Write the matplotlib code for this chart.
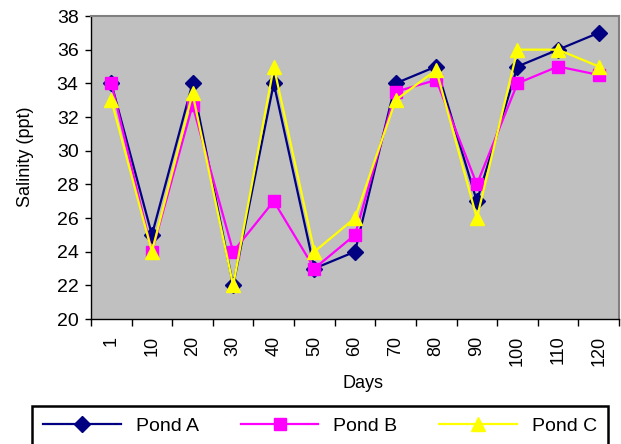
import numpy as np
import matplotlib
matplotlib.use("Agg")
import matplotlib.pyplot as plt

plt.rcParams["font.family"] = ["Liberation Sans", "DejaVu Sans"]

days = ["1", "10", "20", "30", "40", "50", "60", "70", "80", "90", "100", "110", "120"]
pond_a = [34, 25, 34, 22, 34, 23, 24, 34, 35, 27, 35, 36, 37]
pond_b = [34, 24, 32.7, 24, 27, 23, 25, 33.5, 34.2, 28, 34, 35, 34.5]
pond_c = [33, 24, 33.4, 22, 35, 24, 26, 33, 34.8, 26, 36, 36, 35]

W, H = 621, 444
fig = plt.figure(figsize=(W / 100, H / 100), dpi=100)
ax = fig.add_axes([91 / W, 1 - 319 / H, (619 - 91) / W, (319 - 16) / H])
ax.set_facecolor("#C0C0C0")

x = np.arange(1, len(days) + 1)
ax.plot(x, pond_a, color="#000080", lw=1.6, marker="D", ms=8, label="Pond A")
ax.plot(x, pond_b, color="#FF00FF", lw=1.6, marker="s", ms=8.5, label="Pond B")
ax.plot(x, pond_c, color="#FFFF00", lw=1.6, marker="^", ms=10, label="Pond C")

ax.set_xlim(0.5, len(days) + 0.5)
ax.set_ylim(20, 38)
ax.set_yticks(np.arange(20, 39, 2))
ax.tick_params(axis="y", direction="out", length=4, width=1, pad=5, labelsize=14)

# boundaries get the tick marks, centres get the labels
ax.set_xticks(np.arange(0.5, len(days) + 1, 1))
ax.set_xticklabels([])
ax.set_xticks(x, labels=days, minor=True)
ax.tick_params(axis="x", which="major", direction="out", length=5, width=1)
ax.tick_params(axis="x", which="minor", length=0, pad=12, labelsize=13, labelrotation=90)

for s in ["top", "right"]:
    ax.spines[s].set_color("#808080")
    ax.spines[s].set_linewidth(1.5)
for s in ["left", "bottom"]:
    ax.spines[s].set_color("black")
    ax.spines[s].set_linewidth(1)

fig.text(25 / W, 1 - 157 / H, "Salinity (ppt)", rotation=90, ha="center", va="center", fontsize=13)
fig.text(363 / W, 1 - 383 / H, "Days", ha="center", va="center", fontsize=13)

leg = fig.legend(loc="upper left", bbox_to_anchor=(32 / W, 1 - 406 / H), ncol=3,
                 prop={"size": 14},
                 frameon=True, fancybox=False, edgecolor="black", framealpha=1,
                 handlelength=4.0, handletextpad=0.77, columnspacing=2.15,
                 borderpad=0.57, borderaxespad=0)
leg.get_frame().set_linewidth(1.8)

fig.savefig("out.png", dpi=100)
